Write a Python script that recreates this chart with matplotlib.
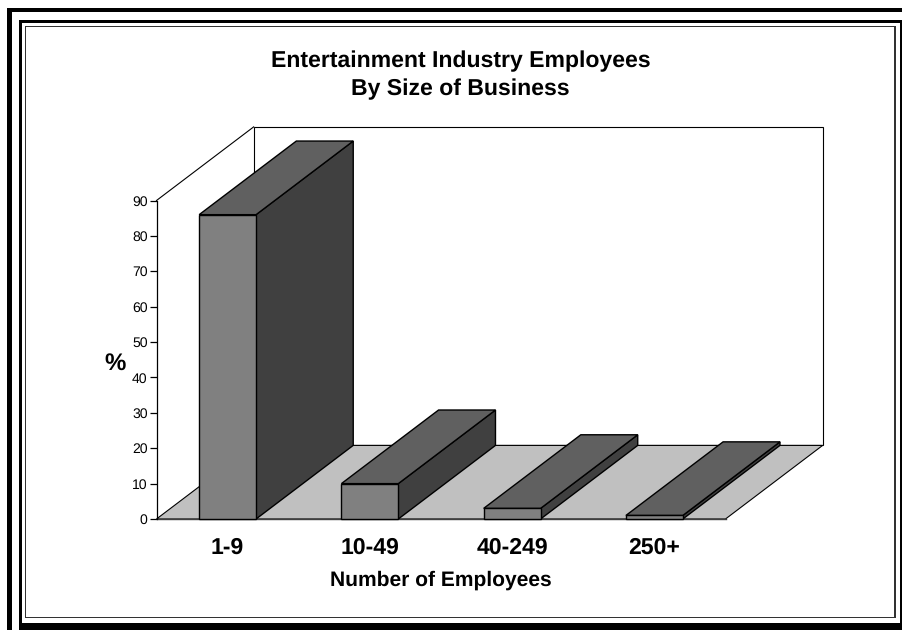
import matplotlib
matplotlib.use("Agg")
import matplotlib.pyplot as plt
from matplotlib.patches import Polygon, Rectangle
from matplotlib.ticker import MultipleLocator

plt.rcParams["font.family"] = ["Liberation Sans", "DejaVu Sans"]
plt.rcParams["text.hinting"] = "no_hinting"
plt.rcParams["text.hinting_factor"] = 1

# Share of entertainment industry employees per business size band
categories = ["1-9", "10-49", "40-249", "250+"]
shares = [86, 10, 3, 1]

W, H = 902, 630
BAR_WIDTH = 0.4
# Oblique depth of the 3-D box, in data units
DEPTH_X = 0.683
DEPTH_Y = 20.8
FRONT = "#808080"
TOP = "#606060"
SIDE = "#404040"
FLOOR = "#C0C0C0"

fig = plt.figure(figsize=(W / 100, H / 100), dpi=100, facecolor="white")


def frame(x0, y0, x1, y1, color="black"):
    """Filled band given in pixels from the top-left corner of the figure."""
    fig.add_artist(Rectangle((x0 / W, 1 - y1 / H), (x1 - x0) / W, (y1 - y0) / H,
                             transform=fig.transFigure, facecolor=color,
                             edgecolor="none"))


# Page borders
frame(7, 8, 902, 12)
frame(7, 8, 12, 630)
frame(19, 20, 22, 630)
frame(19, 20, 902, 23)
frame(899.5, 20, 902, 630)
frame(19, 623, 902, 630)
frame(25, 26, 895.5, 27.3, "#333333")
frame(25, 26, 26.2, 618, "#333333")
frame(894.3, 26, 895.5, 618, "#333333")
frame(25, 616.8, 895.5, 618, "#333333")

ax = fig.add_axes([156.5 / W, 1 - 519 / H, (725.5 - 156.5) / W, (519 - 200.5) / H])
ax.set_xlim(0, len(categories))
ax.set_ylim(0, 90)
ax.patch.set_visible(False)
for name in ("top", "right", "bottom"):
    ax.spines[name].set_visible(False)
ax.spines["left"].set_linewidth(0.9)
ax.spines["left"].set_zorder(6)


def face(points, color, lw=1.0, z=3, edge="black"):
    ax.add_patch(Polygon(points, closed=True, facecolor=color, edgecolor=edge,
                         linewidth=lw, joinstyle="miter", clip_on=False, zorder=z))


n = len(categories)
# Back wall first, then the side wall as an open outline so the shared edge stays single
face([(DEPTH_X, DEPTH_Y), (DEPTH_X, 90 + DEPTH_Y), (n + DEPTH_X, 90 + DEPTH_Y),
      (n + DEPTH_X, DEPTH_Y)], "white", 0.8, 1)
ax.plot([0, DEPTH_X], [90, 90 + DEPTH_Y], color="black", lw=0.8, clip_on=False, zorder=1.5)
face([(0, 0), (n, 0), (n + DEPTH_X, DEPTH_Y), (DEPTH_X, DEPTH_Y)], FLOOR, 0.8, 2)
ax.plot([0, n], [0, 0], color="#404040", lw=1.0, clip_on=False, zorder=2.5)

# Bars: side face, top face, then front face
for i, value in enumerate(shares):
    x0 = i + 0.5 - BAR_WIDTH / 2
    x1 = i + 0.5 + BAR_WIDTH / 2
    face([(x1, 0), (x1 + DEPTH_X, DEPTH_Y), (x1 + DEPTH_X, value + DEPTH_Y), (x1, value)], SIDE)
    face([(x0, value), (x1, value), (x1 + DEPTH_X, value + DEPTH_Y), (x0 + DEPTH_X, value + DEPTH_Y)], TOP)
    face([(x0, 0), (x1, 0), (x1, value), (x0, value)], FRONT)

ax.yaxis.set_major_locator(MultipleLocator(10))
ax.tick_params(axis="y", direction="out", length=5.4, width=0.9, pad=1.0, labelsize=10)
ax.set_xticks([i + 0.5 for i in range(n)])
ax.set_xticklabels(categories, fontsize=16.4, fontweight="bold")
ax.tick_params(axis="x", length=0, pad=13)

fig.text(460.5 / W, 1 - 61 / H, "Entertainment Industry Employees", ha="center", va="center",
         fontsize=16.6, fontweight="bold")
fig.text(460.5 / W, 1 - 89 / H, "By Size of Business", ha="center", va="center",
         fontsize=16.6, fontweight="bold")
fig.text(441 / W, 1 - 580 / H, "Number of Employees", ha="center", va="center",
         fontsize=15, fontweight="bold")
fig.text(115 / W, 1 - 364 / H, "%", ha="center", va="center",
         fontsize=17, fontweight="bold")

fig.savefig("out.png", dpi=100)
